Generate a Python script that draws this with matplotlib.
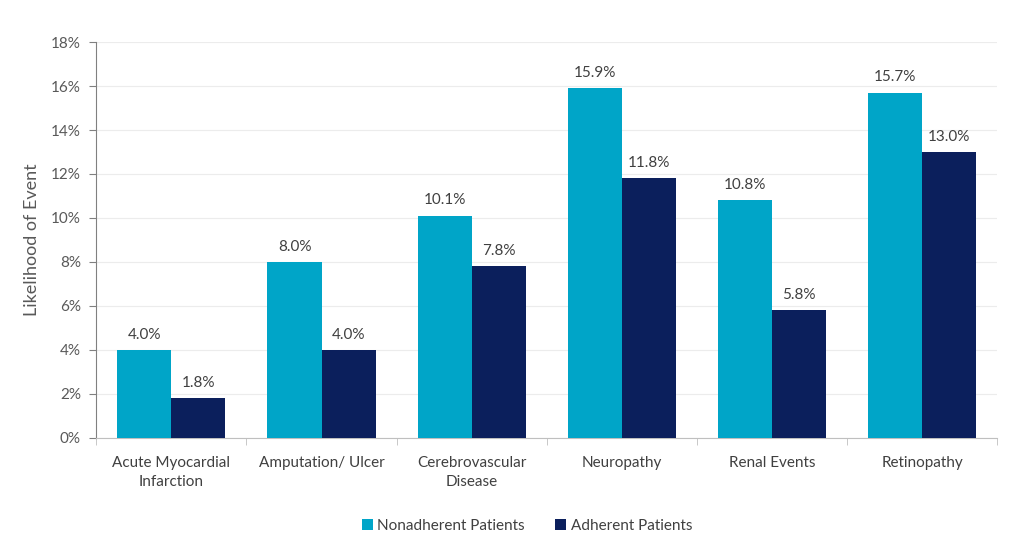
import matplotlib.pyplot as plt
import numpy as np

plt.rcParams['font.family'] = ['Lato', 'DejaVu Sans']

categories = ['Acute Myocardial\nInfarction', 'Amputation/ Ulcer', 'Cerebrovascular\nDisease',
              'Neuropathy', 'Renal Events', 'Retinopathy']
nonadherent = [4.0, 8.0, 10.1, 15.9, 10.8, 15.7]
adherent = [1.8, 4.0, 7.8, 11.8, 5.8, 13.0]
yticks = [0, 2, 4, 6, 8, 10, 12, 14, 16, 18]

c_non = '#00A5C8'
c_adh = '#0B1F5C'
txt = '#595959'

fig = plt.figure(figsize=(10.24, 5.46), dpi=100)
ax = fig.add_axes([0.094, 0.198, 0.880, 0.725])

x = np.arange(len(categories))
w = 0.36
b1 = ax.bar(x - w / 2, nonadherent, w, color=c_non, label='Nonadherent Patients', zorder=3)
b2 = ax.bar(x + w / 2, adherent, w, color=c_adh, label='Adherent Patients', zorder=3)

for bars, vals in [(b1, nonadherent), (b2, adherent)]:
    for r, v in zip(bars, vals):
        ax.text(r.get_x() + r.get_width() / 2, v + 0.38, f'{v:.1f}%', ha='center', va='bottom',
                fontsize=11, color='#404040')

ax.set_xlim(-0.5, len(categories) - 0.5)
ax.set_ylim(0, 18)
ax.set_yticks(yticks)
ax.set_yticklabels([f'{t}%' for t in yticks], fontsize=11, color=txt)
ax.set_xticks(x)
ax.set_xticklabels(categories, fontsize=11, color='#404040', linespacing=1.45)
ax.tick_params(axis='x', length=0, pad=13)
ax.set_xticks(np.arange(-0.5, len(categories)), minor=True)
ax.tick_params(axis='x', which='minor', length=5, color='#bfbfbf')
ax.tick_params(axis='y', length=5, color='#808080', pad=6)
ax.set_ylabel('Likelihood of Event', fontsize=13, color=txt, labelpad=8)

ax.grid(axis='y', color='#ececec', linewidth=0.8, zorder=0)
for s in ['top', 'right']:
    ax.spines[s].set_visible(False)
ax.spines['left'].set_color('#808080')
ax.spines['bottom'].set_color('#bfbfbf')

ax.legend(loc='upper center', bbox_to_anchor=(0.478, -0.17), ncol=2, frameon=False,
          fontsize=11, handlelength=0.7, handleheight=0.7, handletextpad=0.3, columnspacing=2.0,
          labelcolor='#404040')

fig.savefig('out.png', dpi=100)
